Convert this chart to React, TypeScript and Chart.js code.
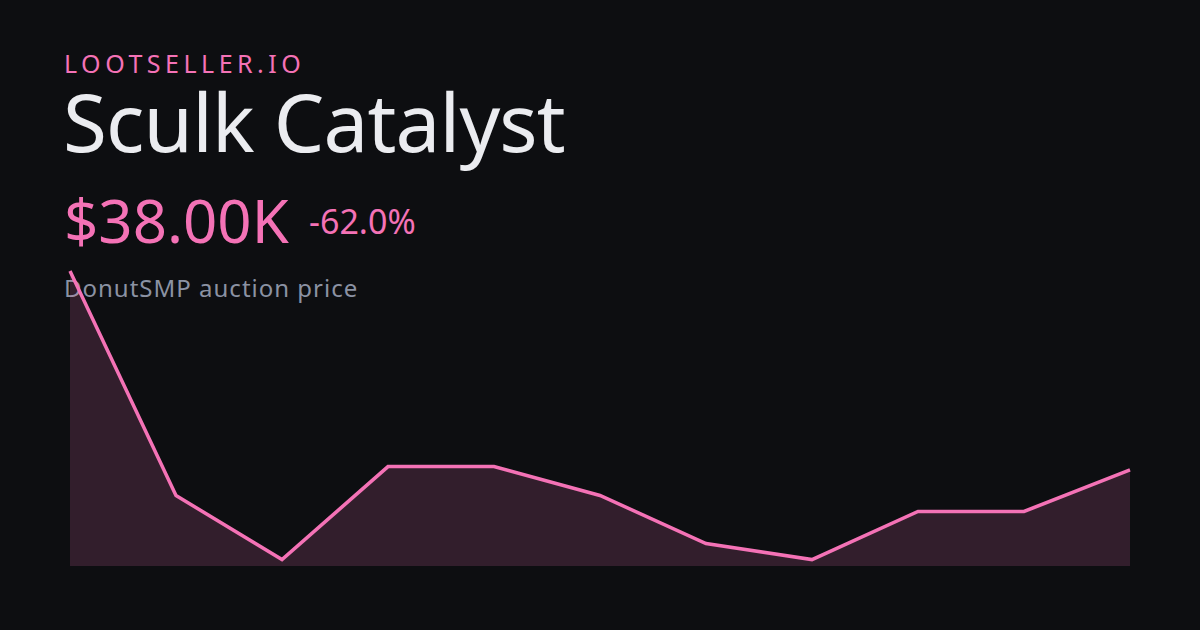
import React, { useEffect, useRef } from "react";
import { Chart, registerables } from "chart.js";

Chart.register(...registerables);

const labels: string[] = ["1", "2", "3", "4", "5", "6", "7", "8", "9", "10", "11"];
const prices: number[] = [100000, 30000, 10000, 39000, 39000, 30000, 15000, 10000, 25000, 25000, 38000];
const brand = "LOOTSELLER.IO";
const itemName = "Sculk Catalyst";
const priceText = "$38.00K";
const changeText = "-62.0%";
const subtitle = "DonutSMP auction price";

const FONT = "'Noto Sans', 'Open Sans', sans-serif";

export default function App() {
  const ref = useRef<HTMLCanvasElement | null>(null);

  useEffect(() => {
    document.body.style.margin = "0";
    if (!ref.current) return;
    const chart = new Chart(ref.current, {
      type: "line",
      data: {
        labels,
        datasets: [
          {
            data: prices,
            borderColor: "#f472b6",
            borderWidth: 3.5,
            backgroundColor: "rgba(244,114,182,0.165)",
            fill: "start",
            tension: 0,
            pointRadius: 0,
            clip: false as any,
          },
        ],
      },
      options: {
        animation: false,
        responsive: false,
        maintainAspectRatio: false,
        layout: { padding: { left: 70, right: 70, top: 271, bottom: 64 } },
        plugins: { legend: { display: false }, tooltip: { enabled: false } },
        scales: {
          x: { display: false },
          y: { display: false, min: 8000, max: 100000 },
        },
      },
    });
    return () => chart.destroy();
  }, []);

  const text = (extra: React.CSSProperties): React.CSSProperties => ({
    position: "absolute",
    left: 64,
    margin: 0,
    lineHeight: 1,
    fontFamily: FONT,
    whiteSpace: "nowrap",
    ...extra,
  });

  return (
    <div style={{ position: "fixed", left: 0, top: 0, width: 1200, height: 630, background: "#0d0e11", overflow: "hidden" }}>
      <div style={text({ top: 51, fontSize: 25, color: "#f472b6", letterSpacing: 4.5 })}>{brand}</div>
      <div style={text({ top: 81, left: 63, fontSize: 80, color: "#ebecf0", letterSpacing: -0.85 })}>{itemName}</div>
      <div style={text({ top: 190, fontSize: 60, color: "#f472b6" })}>{priceText}</div>
      <div style={text({ top: 204, left: 309, fontSize: 34, color: "#f472b6" })}>{changeText}</div>
      <div style={text({ top: 276, fontSize: 24, color: "#8b92a3", letterSpacing: 1 })}>{subtitle}</div>
      <canvas ref={ref} width={1200} height={630} style={{ position: "absolute", left: 0, top: 0, width: 1200, height: 630 }} />
    </div>
  );
}
